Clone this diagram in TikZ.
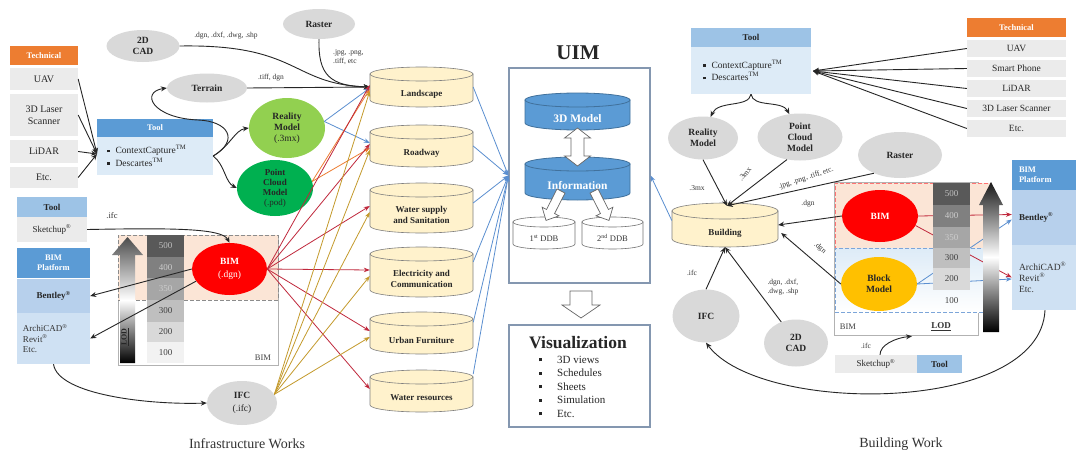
\documentclass[tikz,border=0pt]{standalone}
\usepackage{fontspec}
\setmainfont{Liberation Serif}
\usetikzlibrary{arrows.meta,shapes.geometric,calc}

\definecolor{techor}{HTML}{ED7D31}
\definecolor{cellgray}{HTML}{EBEBEB}
\definecolor{tooldark}{HTML}{5B9BD5}
\definecolor{toollight}{HTML}{9DC3E6}
\definecolor{paleblue}{HTML}{DDEBF7}
\definecolor{rowbentley}{HTML}{B7D0EC}
\definecolor{rowarchi}{HTML}{CFE1F3}
\definecolor{ellgray}{HTML}{D9D9D9}
\definecolor{lightgreen}{HTML}{92D050}
\definecolor{deepgreen}{HTML}{00B050}
\definecolor{bimred}{HTML}{FF0000}
\definecolor{blockyellow}{HTML}{FFC000}
\definecolor{cylfill}{HTML}{FFF2CC}
\definecolor{cylline}{HTML}{7F7F7F}
\definecolor{uimblue}{HTML}{5B9BD5}
\definecolor{uimedge}{HTML}{41719C}
\definecolor{peach}{HTML}{FBE5D6}
\definecolor{boxedge}{HTML}{8497B0}
\definecolor{linkblue}{HTML}{5B8FD0}
\definecolor{linkorange}{HTML}{ED7D31}
\definecolor{linkred}{HTML}{C0283C}
\definecolor{linkgold}{HTML}{C49A2C}

\newcommand\fz[2]{\fontsize{#1}{#2}\selectfont}
\newcommand\sq{\rule[1.4pt]{2.6pt}{2.6pt}\hspace{6pt}}
\newcommand\vsq{\makebox[20pt][l]{\hspace{2pt}\rule[2pt]{3pt}{3pt}}}
\newcommand\tmk{\textsuperscript{TM}}
\newcommand\rgm{\textsuperscript{\textregistered}}

% database drum: name, cx, cy, width, height, end radius, style, text
\newcommand\drum[8]{%
  \node[minimum width={#4*1pt}, minimum height={#5*1pt}, inner sep=0pt] (#1) at (#2,#3) {};
  \filldraw[#7] ({#2-#4/2},{#3-#5/2+#6}) -- ({#2-#4/2},{#3+#5/2-#6})
     arc[start angle=180, end angle=0, x radius={#4/2}, y radius=#6]
     -- ({#2+#4/2},{#3-#5/2+#6}) -- cycle;
  \filldraw[#7] (#2,{#3-#5/2+#6}) ellipse[x radius={#4/2}, y radius=#6];
  \node[#7, draw=none, fill=none, inner sep=0pt, align=center] (#1-t) at (#2,{#3+#6}) {#8};
}
% hollow block arrow: x, y, angle, length, shaft half width, head half width, head length
\newcommand\blockarrow[7]{%
  \begin{scope}[shift={(#1,#2)}, rotate=#3]
    \filldraw[draw=black!60, fill=white, line width=0.7pt] (0,-#5) -- ({#4-#7},-#5) -- ({#4-#7},-#6)
      -- (#4,0) -- ({#4-#7},#6) -- ({#4-#7},#5) -- (0,#5) -- cycle;
  \end{scope}}
\newcommand\dblarrow[7]{%
  \begin{scope}[shift={(#1,#2)}, rotate=#3]
    \filldraw[draw=black!60, fill=white, line width=0.7pt] (0,0) -- (#7,-#6) -- (#7,-#5)
      -- ({#4-#7},-#5) -- ({#4-#7},-#6) -- (#4,0) -- ({#4-#7},#6) -- ({#4-#7},#5)
      -- (#7,#5) -- (#7,#6) -- cycle;
  \end{scope}}
% shaded LOD arrow in page units (y downwards): tip x, tip y, head base y, bottom y, head half width, shaft half width, shading
\newcommand\lodarrow[7]{%
  \shade[#7] (#1pt,-#2pt) -- ({(#1+#5)*1pt},-#3pt) -- ({(#1+#6)*1pt},-#3pt) -- ({(#1+#6)*1pt},-#4pt)
    -- ({(#1-#6)*1pt},-#4pt) -- ({(#1-#6)*1pt},-#3pt) -- ({(#1-#5)*1pt},-#3pt) -- cycle;}

\tikzset{
  box/.style={inner sep=0pt, align=center},
  cell/.style={box, fill=cellgray, font=\fz{10}{11.5}, text=black!85},
  orangehead/.style={box, fill=techor, text=white, font=\bfseries\fz{8.5}{10}},
  darkhead/.style={box, fill=tooldark, text=white, font=\bfseries\fz{8.5}{10}},
  lighthead/.style={box, fill=toollight, text=black!85, font=\bfseries\fz{9}{10}},
  oval/.style={ellipse, inner sep=0pt, align=center, font=\bfseries\fz{9.5}{11}, text=black!85},
  lab/.style={inner sep=0pt, font=\fz{7.5}{9}, text=black!80, align=left},
  arr/.style={-{Stealth[length=6pt,width=5pt]}, line width=0.9pt, draw=black!85},
  link/.style={-{Stealth[length=6pt,width=4.5pt]}, line width=0.8pt},
  cyl/.style={draw=cylline, fill=cylfill, line width=0.6pt, font=\bfseries\fz{9}{11}, text=black!85},
  uimcyl/.style={draw=uimedge, fill=uimblue, line width=0.8pt, font=\bfseries\fz{11.5}{13}, text=white},
  ddbcyl/.style={draw=black!55, fill=white, line width=0.6pt, font=\fz{8.5}{10}, text=black!80},
  lodcell/.style={box, minimum width=37pt, font=\fz{9}{10}},
  zone/.style={inner sep=0pt, dash pattern=on 4pt off 2pt, line width=1pt},
}

\begin{document}
\begin{tikzpicture}[x=1pt,y=-1pt]
\useasboundingbox (0,0) rectangle (1076,455);
\fill[white] (0,0) rectangle (1076,455);

% ================= Infrastructure works =================
% BIM area with LOD scale
\node[draw=black!30, fill=white, inner sep=0pt, minimum width=160pt, minimum height=130pt] (lbimarea) at (198,300) {};
\node[zone, draw=black!45, fill=peach, minimum width=160pt, minimum height=65pt] (lbimzone) at (198,267.5) {};
\node[inner sep=0pt, font=\fz{8.5}{10}, text=black!75] (lbimlab) at (263,358) {BIM};

% acquisition techniques
\node[orangehead, minimum width=68pt, minimum height=19pt] (ltech) at (44,55.5) {Technical};
\node[cell, minimum width=68pt, minimum height=22pt] (luav) at (44,79) {UAV};
\node[cell, minimum width=68pt, minimum height=42pt] (llaser) at (44,115) {3D Laser\\Scanner};
\node[cell, minimum width=68pt, minimum height=23pt] (llidar) at (44,151.5) {LiDAR};
\node[cell, minimum width=68pt, minimum height=21pt] (letc) at (44,177.5) {Etc.};

% capture tool
\node[darkhead, minimum width=116pt, minimum height=18pt] (ltoolh) at (155,128) {Tool};
\node[box, fill=paleblue, minimum width=116pt, minimum height=38pt, text width=96pt, align=left, font=\fz{9.5}{12.5}, text=black!85] (ltoolb) at (155,156) {\sq ContextCapture\tmk\\\sq Descartes\tmk};

% sources
\node[oval, fill=ellgray, minimum width=80pt, minimum height=29pt] (terrain) at (207,88) {Terrain};
\node[oval, fill=ellgray, minimum width=73pt, minimum height=32pt] (lcad) at (143,46) {2D\\CAD};
\node[oval, fill=ellgray, minimum width=72pt, minimum height=30pt] (lraster) at (319,24) {Raster};
\node[oval, fill=lightgreen, minimum width=76pt, minimum height=60pt] (lreal) at (287,128) {Reality\\Model\\{\mdseries(.3mx)}};
\node[oval, fill=deepgreen, minimum width=76pt, minimum height=56pt, font=\bfseries\fz{9}{10}] (lpcm) at (275,188) {Point\\Cloud\\Model\\{\mdseries(.pod)}};

% modelling tool and platforms
\node[lighthead, minimum width=70pt, minimum height=20pt] (lskh) at (52,207) {Tool};
\node[cell, minimum width=70pt, minimum height=25pt, font=\fz{9}{10}] (lskb) at (52,229.5) {Sketchup\rgm};
\node[darkhead, minimum width=73pt, minimum height=30pt] (lbph) at (53.5,263) {BIM\\Platform};
\node[box, fill=rowbentley, minimum width=73pt, minimum height=34pt, font=\bfseries\fz{9}{10}, text=black!85] (lbpb) at (53.5,296) {Bentley\rgm};
\node[box, fill=rowarchi, minimum width=73pt, minimum height=51pt, text width=61pt, align=left, font=\fz{9}{10.5}, text=black!80] (lbpa) at (53.5,338.5) {ArchiCAD\rgm\\Revit\rgm\\Etc.};

\node[oval, fill=bimred, text=white, minimum width=75pt, minimum height=52pt] (lbim) at (229.5,269) {BIM\\[2pt]{\mdseries(.dgn)}};
\node[oval, fill=ellgray, minimum width=70pt, minimum height=44pt] (lifc) at (242,403) {IFC\\[2pt]{\mdseries(.ifc)}};

% infrastructure layers
\drum{land}{421.5}{87}{103}{40}{7}{cyl}{Landscape}
\drum{road}{421.5}{146}{103}{42}{7}{cyl}{Roadway}
\drum{water}{421.5}{208}{103}{50}{7}{cyl}{Water supply\\and Sanitation}
\drum{elec}{421.5}{272}{103}{50}{7}{cyl}{Electricity and\\Communication}
\drum{urban}{421.5}{333}{103}{42}{7}{cyl}{Urban Furniture}
\drum{wres}{421.5}{391}{103}{42}{7}{cyl}{Water resources}

% ================= UIM =================
\node[inner sep=0pt, font=\bfseries\fz{21}{24}, text=black!85] (uimtitle) at (578,53) {UIM};
\node[draw=boxedge, line width=1.2pt, fill=white, inner sep=0pt, minimum width=141pt, minimum height=215pt] (uim) at (579.5,175.5) {};
\drum{model3d}{577.5}{111.5}{105}{37}{7}{uimcyl}{3D Model}
\drum{info}{577.5}{178.5}{105}{43}{7}{uimcyl}{Information}
\drum{ddba}{544}{233}{62}{32}{5}{ddbcyl}{1\textsuperscript{st} DDB}
\drum{ddbb}{612.5}{233}{61}{32}{5}{ddbcyl}{2\textsuperscript{nd} DDB}
\dblarrow{577.5}{128}{-90}{38}{6.5}{13}{10}
\blockarrow{561}{191}{-117}{33}{4.5}{9.5}{10}
\blockarrow{594}{191}{-63}{33}{4.5}{9.5}{10}
\blockarrow{581}{291}{-90}{27}{11}{19}{13}

\node[draw=boxedge, line width=1.2pt, fill=white, inner sep=0pt, minimum width=141pt, minimum height=102pt] (viz) at (579.5,376) {};
\node[inner sep=0pt, font=\bfseries\fz{17.5}{20}, text=black!85] (viztitle) at (578,343) {Visualization};
\node[inner sep=0pt, anchor=north west, align=left, font=\fz{11}{13.5}, text=black!85] (vizlist) at (537,356) {\vsq 3D views\\\vsq Schedules\\\vsq Sheets\\\vsq Simulation\\\vsq Etc.};

% ================= Building work =================
\node[draw=black!30, fill=white, inner sep=0pt, minimum width=144pt, minimum height=153pt] (rbimarea) at (906,258.5) {};
\node[zone, draw=red!55, fill=peach, minimum width=155pt, minimum height=65pt] (rbimzone) at (912.5,215.5) {};
\node[zone, draw=linkblue!80, top color=paleblue, bottom color=white, minimum width=155pt, minimum height=64pt] (rblockzone) at (912.5,280) {};
\node[inner sep=0pt, font=\fz{8.5}{10}, text=black!75] (rbimlab) at (848,327) {BIM};
\node[inner sep=0pt, font=\bfseries\fz{9}{10}, text=black!80] (rlodlab) at (941,327) {\underline{LOD}};

\node[orangehead, minimum width=99pt, minimum height=19pt] (rtech) at (1016.5,27.5) {Technical};
\node[cell, minimum width=99pt, minimum height=17pt, font=\fz{9.5}{11}] (ruav) at (1016.5,48.5) {UAV};
\node[cell, minimum width=99pt, minimum height=17pt, font=\fz{9.5}{11}] (rphone) at (1016.5,68.5) {Smart Phone};
\node[cell, minimum width=99pt, minimum height=17pt, font=\fz{9.5}{11}] (rlidar) at (1016.5,88.5) {LiDAR};
\node[cell, minimum width=99pt, minimum height=17pt, font=\fz{9.5}{11}] (rlaser) at (1016.5,108.5) {3D Laser Scanner};
\node[cell, minimum width=99pt, minimum height=17pt, font=\fz{9.5}{11}] (retc) at (1016.5,128.5) {Etc.};

\node[lighthead, minimum width=120pt, minimum height=19pt] (rtoolh) at (751,37.5) {Tool};
\node[box, fill=paleblue, minimum width=120pt, minimum height=47pt, text width=96pt, align=left, font=\fz{9.5}{12.5}, text=black!85] (rtoolb) at (751,70.5) {\sq ContextCapture\tmk\\\sq Descartes\tmk};

\node[oval, fill=ellgray, minimum width=70pt, minimum height=43pt] (rreal) at (703,138) {Reality\\Model};
\node[oval, fill=ellgray, minimum width=85pt, minimum height=47pt] (rpcm) at (800,137) {Point\\Cloud\\Model};
\node[oval, fill=ellgray, minimum width=84pt, minimum height=46pt] (rraster) at (900,155) {Raster};
\node[oval, fill=ellgray, minimum width=67pt, minimum height=53pt] (rifc) at (706,316) {IFC};
\node[oval, fill=ellgray, minimum width=64pt, minimum height=47pt] (rcad) at (796,343) {2D\\CAD};
\drum{bld}{725}{225}{106}{44}{8}{cyl}{Building}

\node[oval, fill=bimred, text=white, minimum width=76pt, minimum height=52pt] (rbim) at (880,216) {BIM};
\node[oval, fill=blockyellow, minimum width=76pt, minimum height=54pt] (rblock) at (879,284) {Block\\Model};

\node[darkhead, minimum width=66pt, minimum height=30pt, text width=52pt, align=left] (rbph) at (1045,175) {BIM\\Platform};
\node[box, fill=rowbentley, minimum width=66pt, minimum height=55pt, text width=52pt, align=left, font=\bfseries\fz{9}{10}, text=black!85] (rbpb) at (1045,217.5) {Bentley\rgm};
\node[box, fill=rowarchi, minimum width=66pt, minimum height=65pt, text width=52pt, align=left, font=\fz{9.5}{11}, text=black!80] (rbpa) at (1045,277.5) {ArchiCAD\rgm\\Revit\rgm\\Etc.};

\node[cell, minimum width=82pt, minimum height=18pt, font=\fz{9}{10}] (rskb) at (876,364) {Sketchup\rgm};
\node[lighthead, minimum width=45pt, minimum height=18pt] (rskh) at (939.5,364) {Tool};

% ================= connectors, infrastructure side =================
\coordinate (ltin) at (97,154);
\foreach \nm in {luav,llaser,llidar,letc} \draw[arr] (\nm.east) -- (ltin);

\draw[arr] (ltoolb.east) .. controls (240,140) and (228,121) .. (198,120)
  .. controls (152,118) and (140,92) .. (terrain.west);
\draw[arr] (ltoolb.east) .. controls (230,146) and (235,130) .. (lreal.west);
\draw[arr] (ltoolb.east) .. controls (225,165) and (225,182) .. (lpcm.west);

\draw[arr] (lcad.east) .. controls (300,44) and (290,84) .. (land.west);
\draw[arr] (lraster.south) .. controls (318,75) and (330,86) .. (land.west);
\draw[arr] (terrain.east) -- (land.west);

\draw[link, linkblue] (lreal.10) -- ($(land.west)+(0,1)$);
\draw[link, linkblue] (lreal.10) -- ($(road.west)+(0,-3)$);
\draw[link, linkorange] (lpcm.10) -- ($(land.west)+(0,2)$);
\draw[link, linkorange] (lpcm.10) -- ($(road.west)+(0,2)$);
\foreach \nm in {land,road,water,elec,urban,wres}
  \draw[link, linkred] (lbim.east) -- ($(\nm.west)+(0,-2)$);
\foreach \nm in {land,road,water,elec,urban}
  \draw[link, linkgold] (lifc.15) -- ($(\nm.west)+(0,4)$);

\foreach \nm/\fr in {land/0.5,road/0.5,water/0.4,elec/0.3,urban/0.25,wres/0.1}
  \draw[link, linkblue] ($(\nm.north east)!\fr!(\nm.south east)$) -- (uim.west);

\draw[arr] (lskb.east) .. controls (170,228) and (222,228) .. (lbim.north);
\draw[arr] (lbpa.south) .. controls (58,395) and (150,405) .. (lifc.west);

\node[lab] (lcadlab) at (226,36) {.dgn, .dxf, .dwg, .shp};
\node[lab, anchor=west] (lrastlab) at (333,57) {.jpg, .png,\\.tiff, etc};
\node[lab] (lterrlab) at (271,78) {.tiff, dgn};
\node[lab, font=\fz{8.5}{10}] (lifclab) at (112,216) {.ifc};

% LOD scale, infrastructure side
\lodarrow{127.5}{237}{255}{363}{15.5}{7.5}{top color=black!70, bottom color=black, middle color=white}
\node[inner sep=0pt, rotate=90, font=\bfseries\fz{8}{9}, text=black!85] (llodlab) at (125,337) {\underline{LOD}};
\node[lodcell, fill=black!65, text=black!25, minimum height=22pt] (l500) at (165.5,246) {500};
\node[lodcell, fill=black!50, text=black!20, minimum height=21pt] (l400) at (165.5,267.5) {400};
\node[lodcell, fill=black!35, text=black!20, minimum height=22pt] (l350) at (165.5,289) {350};
\node[lodcell, fill=black!25, text=black!75, minimum height=22pt] (l300) at (165.5,311) {300};
\node[lodcell, fill=black!15, text=black!75, minimum height=20pt] (l200) at (165.5,332) {200};
\node[lodcell, fill=black!5, text=black!75, minimum height=21pt] (l100) at (165.5,352.5) {100};

\draw[arr] (lbim.west) -- (lbpb.east);
\draw[arr] (lbim.200) -- (lbpa.east);

% ================= connectors, building side =================
\coordinate (rtin) at (813,71);
\foreach \nm in {ruav,rphone,rlidar,rlaser,retc} \draw[arr] (\nm.west) -- (rtin);
\draw[arr] (rtoolb.south) .. controls (749,108) and (718,100) .. (rreal.70);
\draw[arr] (rtoolb.south) .. controls (753,108) and (782,100) .. (rpcm.115);

\draw[arr] (rreal.south) -- ($(bld.north)+(2,3)$);
\draw[arr] (rpcm.240) -- ($(bld.north)+(2,3)$);
\draw[arr] (rraster.215) -- ($(bld.north)+(2,3)$);
\draw[arr] (rbim.west) -- (bld.east);
\draw[arr] (rblock.west) -- ($(bld.east)+(3,8)$);
\draw[arr] (rifc.north) -- (bld.south);
\draw[arr] (rcad.125) -- (bld.south);
\draw[link, linkblue] ($(bld.north west)!0.4!(bld.south west)$) -- (uim.east);

\draw[link, linkred] (rbim.east) -- ($(rbpb.west)+(0,-3)$);
\draw[link, linkred] (rbim.-15) -- ($(rbpa.west)+(0,0)$);
\draw[link, linkblue] (rblock.east) -- ($(rbpb.west)+(0,2)$);
\draw[link, linkblue] (rblock.east) -- ($(rbpa.west)+(0,1.5)$);

\draw[arr] ($(rskb.north)+(4,0)$) .. controls (880,345) and (895,338) .. ($(rbimarea.south)+(6,1)$);
\draw[arr] (rbpa.south) .. controls (1040,415) and (760,415) .. (rifc.south);

\node[lab] (rl3mx) at (697,188) {.3mx};
\node[lab, rotate=50] (rl3mxb) at (745,174) {.3mx};
\node[lab, rotate=18] (rljpg) at (806,178) {.jpg, .png, .tiff, etc.};
\node[lab] (rldgna) at (808,204) {.dgn};
\node[lab, rotate=-40] (rldgnb) at (820,248) {.dgn};
\node[lab] (rlifc) at (692,273) {.ifc};
\node[lab] (rlcad) at (783,287) {.dgn, .dxf,\\.dwg, .shp};
\node[lab] (rlifcb) at (866,346) {.ifc};

% LOD scale, building side
\node[lodcell, fill=black!65, text=black!25, minimum height=22pt] (r500) at (951.5,194) {500};
\node[lodcell, fill=black!50, text=black!20, minimum height=22pt] (r400) at (951.5,216) {400};
\node[lodcell, fill=black!35, text=black!20, minimum height=21pt] (r350) at (951.5,237.5) {350};
\node[lodcell, fill=black!25, text=black!75, minimum height=20pt] (r300) at (951.5,258) {300};
\node[lodcell, fill=black!15, text=black!75, minimum height=22pt] (r200) at (951.5,279) {200};
\node[lodcell, text=black!75, minimum height=21pt] (r100) at (951.5,300.5) {100};
\lodarrow{991}{182}{205}{332}{12}{8}{top color=black!90, bottom color=black, middle color=white}

% titles
\node[inner sep=0pt, font=\fz{14}{16}, text=black!80] (infra) at (247,444) {Infrastructure Works};
\node[inner sep=0pt, font=\fz{14}{16}, text=black!80] (bwork) at (901,444) {Building Work};
\end{tikzpicture}
\end{document}
